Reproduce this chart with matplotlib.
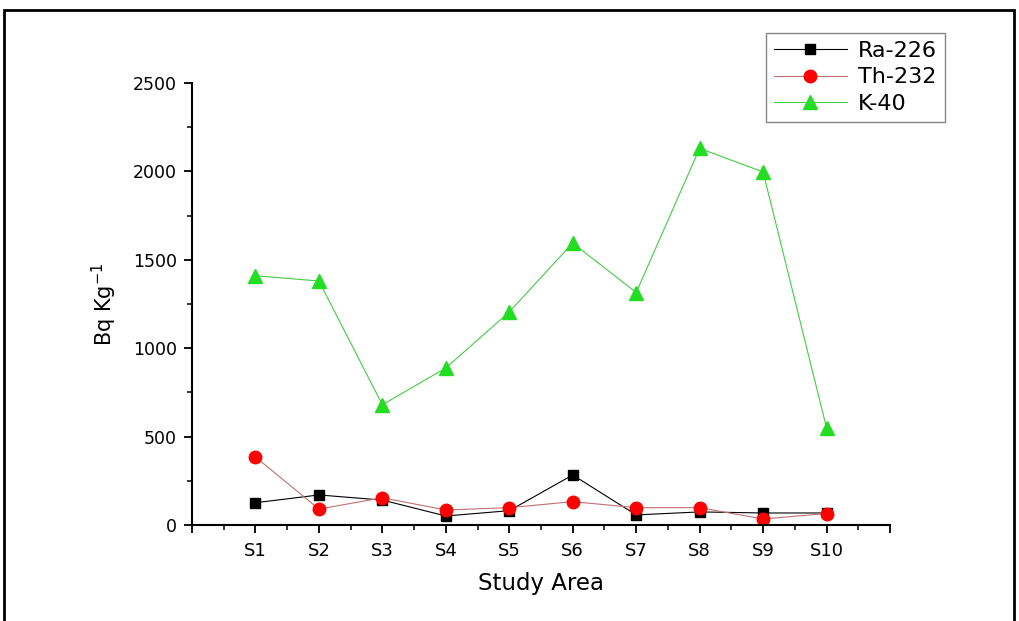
import matplotlib.pyplot as plt
from matplotlib.patches import Rectangle
from matplotlib.ticker import MultipleLocator

# Data
sites = ['S1', 'S2', 'S3', 'S4', 'S5', 'S6', 'S7', 'S8', 'S9', 'S10']
ra226 = [126, 170, 141, 51, 81, 283, 57, 74, 68, 68]
th232 = [385, 90, 154, 85, 98, 132, 98, 98, 34, 65]
k40 = [1410, 1380, 680, 888, 1205, 1595, 1315, 2130, 1997, 549]

x = list(range(1, len(sites) + 1))

plt.rcParams['font.family'] = ['DejaVu Sans']

fig = plt.figure(figsize=(10.19, 6.21), dpi=100)
ax = fig.add_axes([192 / 1019, 1 - 525 / 621, (890 - 192) / 1019, (525 - 83) / 621])

ax.plot(x, ra226, color='black', lw=0.8, marker='s', ms=7.5, label='Ra-226')
ax.plot(x, th232, color='#c07070', lw=0.8, marker='o', ms=9,
        markerfacecolor='red', markeredgecolor='red', label='Th-232')
ax.plot(x, k40, color='#44cc44', lw=0.8, marker='^', ms=10,
        markerfacecolor='#22dd22', markeredgecolor='#22dd22', label='K-40')

ax.set_xlim(0, 11)
ax.set_ylim(0, 2500)
ax.set_xticks(range(0, 12))
ax.set_xticklabels([''] + sites + [''])
ax.xaxis.set_minor_locator(MultipleLocator(0.5))
ax.yaxis.set_major_locator(MultipleLocator(500))
ax.yaxis.set_minor_locator(MultipleLocator(250))

for side in ['top', 'right']:
    ax.spines[side].set_visible(False)
for side in ['left', 'bottom']:
    ax.spines[side].set_linewidth(1.5)

ax.tick_params(axis='both', which='major', direction='out', length=6, width=1.3)
ax.tick_params(axis='both', which='minor', direction='out', length=3.5, width=1.1)
ax.tick_params(axis='x', labelsize=13, pad=6)
ax.tick_params(axis='y', labelsize=12.5, pad=5)

ax.set_xlabel('Study Area', fontsize=16.5, labelpad=9)
ax.set_ylabel('Bq Kg$^{-1}$', fontsize=15, labelpad=10)

leg = ax.legend(loc='upper left', bbox_to_anchor=(766 / 1019, 1 - 33 / 621),
                bbox_transform=fig.transFigure, borderaxespad=0, fontsize=16,
                frameon=True, fancybox=False, edgecolor='#666666',
                handlelength=3.3, handletextpad=0.5, borderpad=0.35,
                labelspacing=0.3)
leg.get_frame().set_linewidth(1.0)

fig.patches.append(Rectangle((4 / 1019, -0.05), (1014 - 4) / 1019, 1.05 - 10 / 621,
                             transform=fig.transFigure, fill=False,
                             edgecolor='black', linewidth=2))

fig.savefig('out.png', dpi=100)
